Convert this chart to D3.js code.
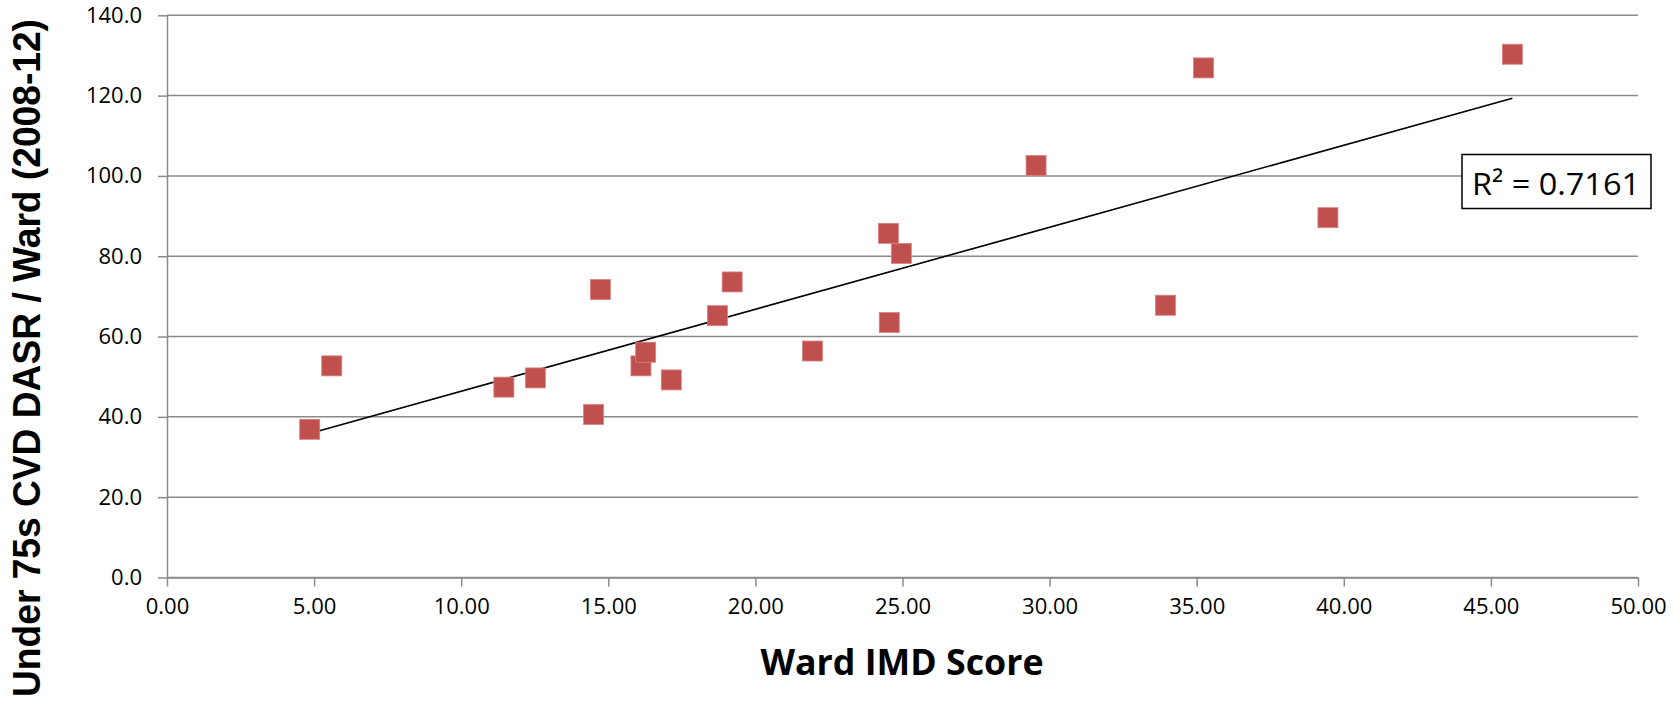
<!DOCTYPE html>
<html>
<head>
<meta charset="utf-8">
<script src="https://cdn.jsdelivr.net/npm/d3@7"></script>
<style>
  body { margin: 0; background: #fff; }
  svg { display: block; }
</style>
</head>
<body>
<svg width="1673" height="707"></svg>
<script>
// data
const imdScore = [4.85, 5.6, 11.45, 12.52, 14.5, 14.73, 16.11, 16.27, 17.14, 18.71,
                  19.21, 21.94, 24.52, 24.55, 24.96, 29.54, 33.94, 35.23, 39.46, 45.73];
const cvdDasr  = [36.9, 52.7, 47.4, 49.7, 40.6, 71.7, 52.7, 56.1, 49.2, 65.2,
                  73.6, 56.4, 85.7, 63.5, 80.7, 102.6, 67.8, 126.9, 89.6, 130.3];
const xTicks = [0, 5, 10, 15, 20, 25, 30, 35, 40, 45, 50];
const yTicks = [0, 20, 40, 60, 80, 100, 120, 140];
const rSquaredLabel = 'R² = 0.7161';

const svg = d3.select('svg');

const margin = {top: 15.3, right: 35, bottom: 129.5, left: 167};
const graphWidth = 1673 - margin.left - margin.right;
const graphHeight = 707 - margin.top - margin.bottom;

const graph = svg.append('g')
  .attr('transform', `translate(${margin.left},${margin.top})`);

const x = d3.scaleLinear().domain([0, 50]).range([0, graphWidth]);
const y = d3.scaleLinear().domain([0, 140]).range([graphHeight, 0]);

const gridColour = '#8a8a8a';
const tickFont = "'Open Sans', sans-serif";

// horizontal gridlines
graph.append('g')
  .selectAll('line')
  .data(yTicks)
  .enter().append('line')
  .attr('x1', 0).attr('x2', graphWidth)
  .attr('y1', d => y(d)).attr('y2', d => y(d))
  .attr('stroke', gridColour)
  .attr('stroke-width', 1.5);

// axes
const xAxisGroup = graph.append('g')
  .attr('transform', `translate(0, ${graphHeight})`);
const yAxisGroup = graph.append('g');

const xAxis = d3.axisBottom(x)
  .tickValues(xTicks)
  .tickSize(9)
  .tickPadding(12)
  .tickSizeOuter(0)
  .tickFormat(d3.format('.2f'));
const yAxis = d3.axisLeft(y)
  .tickValues(yTicks)
  .tickSize(9)
  .tickPadding(16)
  .tickSizeOuter(0)
  .tickFormat(d3.format('.1f'));

xAxisGroup.call(xAxis);
yAxisGroup.call(yAxis);

[xAxisGroup, yAxisGroup].forEach(g => {
  g.select('.domain').attr('stroke', gridColour).attr('stroke-width', 1.5);
  g.selectAll('.tick line').attr('stroke', gridColour).attr('stroke-width', 1.5);
  g.selectAll('.tick text')
    .attr('fill', '#000')
    .style('font-family', tickFont)
    .style('font-size', '22px');
});

// trend line (least squares fit)
const n = imdScore.length;
const mx = d3.mean(imdScore), my = d3.mean(cvdDasr);
let sxy = 0, sxx = 0;
for (let i = 0; i < n; i++) {
  sxy += (imdScore[i] - mx) * (cvdDasr[i] - my);
  sxx += (imdScore[i] - mx) ** 2;
}
const slope = sxy / sxx;
const intercept = my - slope * mx;
const [xMin, xMax] = d3.extent(imdScore);

graph.append('line')
  .attr('x1', x(xMin)).attr('y1', y(intercept + slope * xMin))
  .attr('x2', x(xMax)).attr('y2', y(intercept + slope * xMax))
  .attr('stroke', '#000')
  .attr('stroke-width', 1.6);

// markers
const points = imdScore.map((v, i) => ({imd: v, dasr: cvdDasr[i]}));
const size = 20;
graph.selectAll('rect.pt')
  .data(points)
  .enter().append('rect')
  .attr('class', 'pt')
  .attr('x', d => x(d.imd) - size / 2)
  .attr('y', d => y(d.dasr) - size / 2)
  .attr('width', size)
  .attr('height', size)
  .attr('fill', '#C0504D')
  .attr('stroke', '#d9827f')
  .attr('stroke-width', 0.8);

// R squared label box
const label = svg.append('g').attr('transform', 'translate(1462, 154.5)');
label.append('rect')
  .attr('width', 189).attr('height', 54)
  .attr('fill', '#fff')
  .attr('stroke', '#000')
  .attr('stroke-width', 1.5);
label.append('text')
  .attr('x', 10).attr('y', 40)
  .style('font-family', tickFont)
  .style('font-size', '31px')
  .attr('textLength', 168)
  .attr('lengthAdjust', 'spacingAndGlyphs')
  .text(rSquaredLabel);

// axis titles
svg.append('text')
  .attr('x', 902).attr('y', 675)
  .attr('text-anchor', 'middle')
  .style('font-family', tickFont)
  .style('font-weight', 'bold')
  .style('font-size', '35px')
  .attr('textLength', 283)
  .attr('lengthAdjust', 'spacingAndGlyphs')
  .text('Ward IMD Score');

svg.append('text')
  .attr('transform', 'translate(40, 358) rotate(-90)')
  .attr('text-anchor', 'middle')
  .style('font-family', "'Liberation Sans', Arial, sans-serif")
  .style('font-weight', 'bold')
  .style('font-size', '38px')
  .attr('textLength', 678)
  .attr('lengthAdjust', 'spacingAndGlyphs')
  .text('Under 75s CVD DASR / Ward (2008-12)');
</script>
</body>
</html>
